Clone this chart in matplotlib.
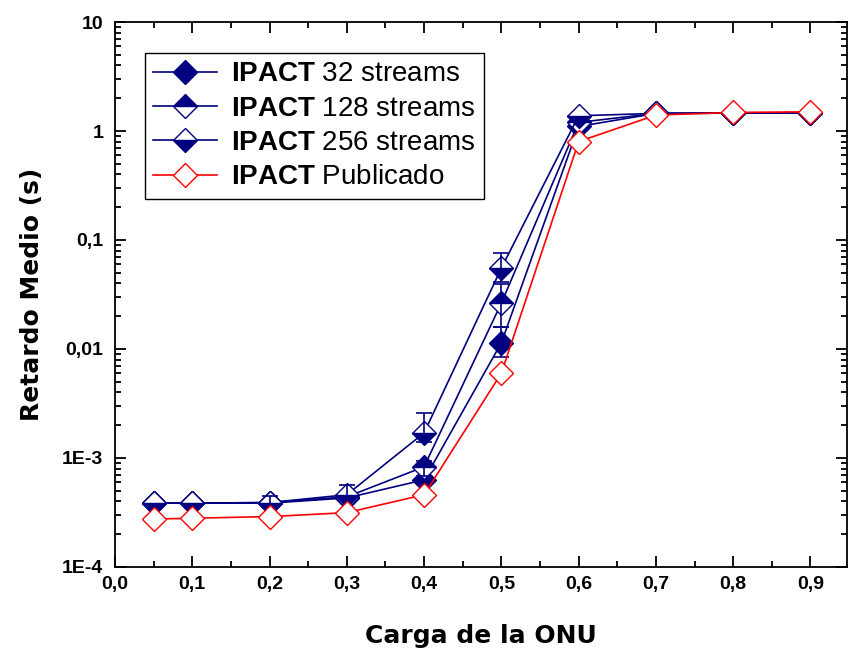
import numpy as np
import matplotlib
matplotlib.use("Agg")
import matplotlib.pyplot as plt
from matplotlib.ticker import FixedLocator, FixedFormatter, LogLocator, MultipleLocator, NullFormatter

plt.rcParams['font.family'] = ['Liberation Sans', 'DejaVu Sans']
plt.rcParams['mathtext.fontset'] = 'custom'
plt.rcParams['mathtext.rm'] = 'Liberation Sans'
plt.rcParams['mathtext.bf'] = 'Liberation Sans:bold'

# Carga de la ONU
carga = [0.05, 0.1, 0.2, 0.3, 0.4, 0.5, 0.6, 0.7, 0.8, 0.9]

# Retardo medio (s)
ret_32 = [3.85e-4, 3.85e-4, 3.85e-4, 4.3e-4, 6.3e-4, 0.0114, 1.10, 1.45, 1.46, 1.46]
ret_128 = [3.85e-4, 3.85e-4, 3.9e-4, 4.4e-4, 8.3e-4, 0.0264, 1.20, 1.45, 1.46, 1.46]
ret_256 = [3.85e-4, 3.85e-4, 3.9e-4, 4.6e-4, 1.7e-3, 0.0553, 1.38, 1.45, 1.46, 1.46]
ret_pub = [2.75e-4, 2.8e-4, 2.9e-4, 3.15e-4, 4.6e-4, 6.0e-3, 0.80, 1.40, 1.48, 1.50]

# Barras de error (inferior, superior) donde las hay
err_x_32 = [0.5]
err_lo_32 = [0.0029]
err_hi_32 = [0.0044]

err_x_128 = [0.4, 0.5]
err_lo_128 = [1.5e-4, 0.0105]
err_hi_128 = [1.0e-4, 0.0130]

err_x_256 = [0.2, 0.3, 0.4, 0.5]
err_lo_256 = [0.3e-4, 0.3e-4, 0.3e-3, 0.0139]
err_hi_256 = [0.6e-4, 1.0e-4, 0.9e-3, 0.0213]

xtick_vals = [0.0, 0.1, 0.2, 0.3, 0.4, 0.5, 0.6, 0.7, 0.8, 0.9]
xtick_labels = ["0,0", "0,1", "0,2", "0,3", "0,4", "0,5", "0,6", "0,7", "0,8", "0,9"]
ytick_vals = [1e-4, 1e-3, 1e-2, 1e-1, 1, 10]
ytick_labels = ["1E-4", "1E-3", "0,01", "0,1", "1", "10"]

labels = [r"$\bf{IPACT}$ 32 streams", r"$\bf{IPACT}$ 128 streams",
          r"$\bf{IPACT}$ 256 streams", r"$\bf{IPACT}$ Publicado"]

navy = "#000080"
red = "#ff0000"

fig = plt.figure(figsize=(8.48, 6.55), dpi=100)
ax = fig.add_axes([0.1356, 0.1344, 0.863, 0.832])
ax.set_yscale("log")

ms = 12
lw = 1.2

ax.plot(carga, ret_32, color=navy, lw=lw, marker="D", ms=ms, mfc=navy, mec=navy,
        mew=1.0, label=labels[0], zorder=3)
ax.errorbar(err_x_32, [ret_32[carga.index(x)] for x in err_x_32],
            yerr=[err_lo_32, err_hi_32], fmt="none", ecolor=navy, elinewidth=1.2,
            capsize=6, capthick=1.2, zorder=3.5)

ax.plot(carga, ret_128, color=navy, lw=lw, marker="D", ms=ms, fillstyle="top",
        mfc=navy, mfcalt="white", mec=navy, mew=1.0, label=labels[1], zorder=4)
ax.errorbar(err_x_128, [ret_128[carga.index(x)] for x in err_x_128],
            yerr=[err_lo_128, err_hi_128], fmt="none", ecolor=navy, elinewidth=1.2,
            capsize=6, capthick=1.2, zorder=4.5)

ax.plot(carga, ret_256, color=navy, lw=lw, marker="D", ms=ms, fillstyle="bottom",
        mfc=navy, mfcalt="white", mec=navy, mew=1.0, label=labels[2], zorder=5)
ax.errorbar(err_x_256, [ret_256[carga.index(x)] for x in err_x_256],
            yerr=[err_lo_256, err_hi_256], fmt="none", ecolor=navy, elinewidth=1.2,
            capsize=6, capthick=1.2, zorder=5.5)

ax.plot(carga, ret_pub, color=red, lw=lw, marker="D", ms=ms, mfc="white", mec=red,
        mew=1.0, label=labels[3], zorder=6)

ax.set_xlim(0.0, 0.947)
ax.set_ylim(1e-4, 10)

ax.xaxis.set_major_locator(FixedLocator(xtick_vals))
ax.xaxis.set_major_formatter(FixedFormatter(xtick_labels))
ax.xaxis.set_minor_locator(MultipleLocator(0.05))
ax.yaxis.set_major_locator(FixedLocator(ytick_vals))
ax.yaxis.set_major_formatter(FixedFormatter(ytick_labels))
ax.yaxis.set_minor_locator(LogLocator(base=10, subs=np.arange(2, 10)))
ax.yaxis.set_minor_formatter(NullFormatter())

ax.tick_params(which="both", direction="in", top=True, right=True, width=1.3)
ax.tick_params(which="major", length=8, labelsize=14)
ax.tick_params(axis="x", which="major", pad=6.5)
ax.tick_params(axis="y", which="major", pad=8.5)
ax.tick_params(which="minor", length=4)
for lab in ax.get_xticklabels() + ax.get_yticklabels():
    lab.set_fontweight("bold")
for sp in ax.spines.values():
    sp.set_linewidth(1.3)

ax.set_xlabel("Carga de la ONU", fontsize=18, fontweight="bold",
              family="DejaVu Sans", labelpad=22)
ax.set_ylabel("Retardo Medio (s)", fontsize=18, fontweight="bold",
              family="DejaVu Sans", labelpad=13)

leg = ax.legend(loc="upper left", bbox_to_anchor=(0.041, 0.943), fontsize=20,
                frameon=True, fancybox=False, edgecolor="black", framealpha=1,
                handlelength=2.3, handletextpad=0.5, borderpad=0.3,
                labelspacing=0.3, borderaxespad=0)
leg.get_frame().set_linewidth(1.0)

fig.savefig("out.png", dpi=100)
